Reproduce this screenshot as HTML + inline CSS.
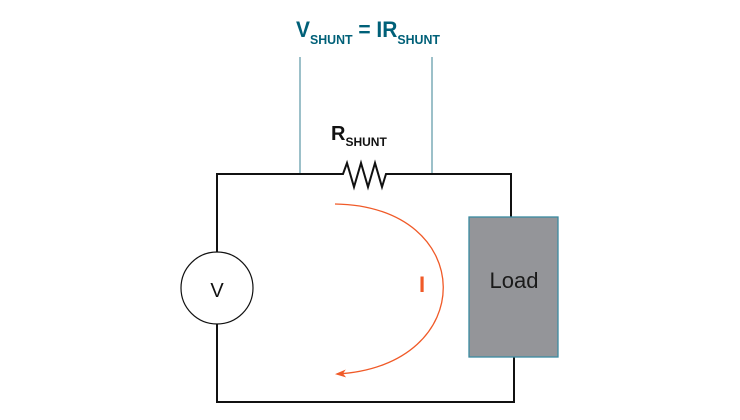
<!DOCTYPE html>
<html><head><style>
body{margin:0;background:#fff;}
svg{display:block;}
</style></head><body>
<svg width="740" height="420" viewBox="0 0 740 420" xmlns="http://www.w3.org/2000/svg" font-family="Liberation Sans, sans-serif">
<defs><marker id="a" markerWidth="12" markerHeight="8" refX="9" refY="4" orient="auto" markerUnits="userSpaceOnUse"><path d="M0,0 L11,4 L0,8 L3,4 Z" fill="#f05a28"/></marker></defs>
<line x1="300" y1="57" x2="300" y2="174" stroke="#5a95a5" stroke-width="1.2"/>
<line x1="432" y1="57" x2="432" y2="174" stroke="#5a95a5" stroke-width="1.2"/>
<path d="M217,252 V174 H343 L347,163 L354,187 L361,163 L368,187 L375,163 L382,187 L386,174 H511 V217" fill="none" stroke="#111" stroke-width="2"/>
<path d="M217,324 V402 H514 V357" fill="none" stroke="#111" stroke-width="2"/>
<circle cx="217" cy="288" r="36" fill="#fff" stroke="#111" stroke-width="1.2"/>
<text x="217" y="297" font-size="20" text-anchor="middle" fill="#111">V</text>
<rect x="469" y="217" width="89" height="140" fill="#949599" stroke="#3a8aa0" stroke-width="1.3"/>
<text x="514" y="288" font-size="22" text-anchor="middle" fill="#1a1a1a">Load</text>
<path d="M335,204 C478,206 480,366 337,374" fill="none" stroke="#f05a28" stroke-width="1.3" marker-end="url(#a)"/>
<text x="422" y="292" font-size="22" font-weight="bold" text-anchor="middle" fill="#f05a28">I</text>
<text x="331" y="140" font-size="20" font-weight="bold" fill="#111">R<tspan font-size="12" dy="6">SHUNT</tspan></text>
<text x="296" y="37" font-size="22" font-weight="bold" fill="#006078" textLength="144" lengthAdjust="spacingAndGlyphs">V<tspan font-size="13" dy="7">SHUNT</tspan><tspan dy="-7" font-size="22"> = IR</tspan><tspan font-size="13" dy="7">SHUNT</tspan></text>
</svg>
</body></html>
